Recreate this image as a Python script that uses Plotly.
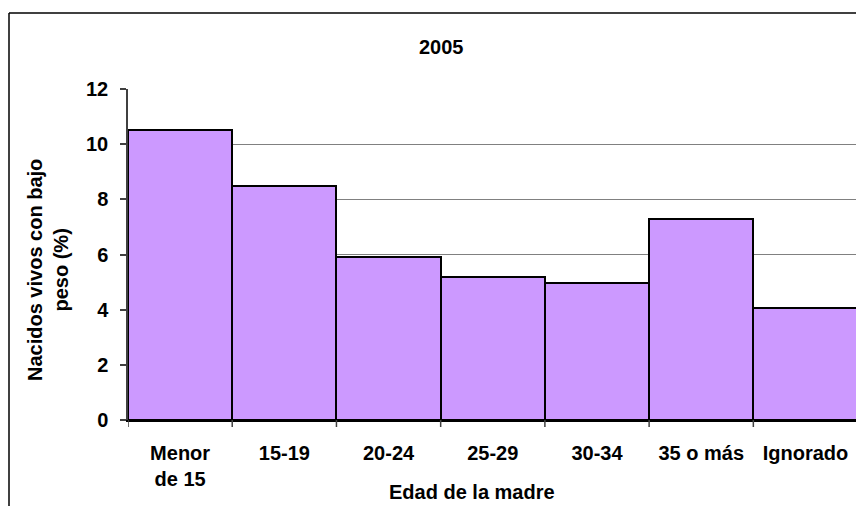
import plotly.graph_objects as go

categories = ["Menor<br>de 15", "15-19", "20-24", "25-29", "30-34", "35 o más", "Ignorado"]
values = [10.5, 8.5, 5.9, 5.2, 4.95, 7.3, 4.05]
y_ticks = [0, 2, 4, 6, 8, 10, 12]

W, H = 856, 506
L, T = 128, 89
PR, PB = 856, 420   # plot right / bottom in px
R, B = W - PR, H - PB
pw = W - L - R
ph = H - T - B

def px(x):
    return (x - L) / pw

def py(y):
    return (PB - y) / ph

FONT = "Liberation Sans, Arial, sans-serif"

fig = go.Figure(go.Bar(
    x=list(range(len(categories))),
    y=values,
    marker=dict(color="#CC99FF", line=dict(color="black", width=2)),
    width=1.0,
))

fig.update_layout(
    width=W, height=H,
    margin=dict(l=L, r=R, t=T, b=B),
    paper_bgcolor="white", plot_bgcolor="white",
    bargap=0,
    showlegend=False,
    font=dict(family=FONT, color="black"),
)

fig.update_xaxes(
    range=[-0.5, len(categories) - 0.515],
    tickmode="array",
    tickvals=list(range(len(categories))),
    ticktext=["<b>%s</b>" % c for c in categories],
    tickfont=dict(size=20, family=FONT, color="black"),
    ticklabelstandoff=14,
    showgrid=False,
    showline=True, linecolor="black", linewidth=2,
    ticks="",
    zeroline=False,
)

fig.update_yaxes(
    range=[0, 12],
    tickmode="array",
    tickvals=y_ticks,
    ticktext=["<b>%d</b>" % v for v in y_ticks],
    tickfont=dict(size=20, family=FONT, color="black"),
    ticklabelstandoff=8,
    showgrid=True, gridcolor="#808080", gridwidth=1,
    showline=True, linecolor="#404040", linewidth=1.5,
    ticks="outside", ticklen=6, tickcolor="#404040", tickwidth=1.5,
    zeroline=False,
)

shapes = []
# x-axis boundary tick marks
for i in range(len(categories)):
    shapes.append(dict(type="line", xref="x", yref="paper",
                       x0=i - 0.5, x1=i - 0.5, y0=0, y1=py(427),
                       line=dict(color="#404040", width=1.5)))
# outer chart border (cropped)
shapes.append(dict(type="line", xref="paper", yref="paper",
                   x0=px(9), x1=px(870), y0=py(13), y1=py(13),
                   line=dict(color="black", width=1.5)))
shapes.append(dict(type="line", xref="paper", yref="paper",
                   x0=px(9), x1=px(9), y0=py(13), y1=py(520),
                   line=dict(color="black", width=1.5)))
fig.update_layout(shapes=shapes)

annotations = [
    dict(text="<b>2005</b>", xref="paper", yref="paper", x=px(441), y=py(47),
         showarrow=False, font=dict(size=20, family=FONT, color="black"),
         xanchor="center", yanchor="middle"),
    dict(text="<b>Nacidos vivos con bajo<br>peso (%)</b>", xref="paper", yref="paper",
         x=px(48), y=py(270), textangle=-90, showarrow=False,
         font=dict(size=20, family=FONT, color="black"),
         xanchor="center", yanchor="middle"),
    dict(text="<b>Edad de la madre</b>", xref="paper", yref="paper",
         x=px(472), y=py(492), showarrow=False,
         font=dict(size=20, family=FONT, color="black"),
         xanchor="center", yanchor="middle"),
]
fig.update_layout(annotations=annotations)

fig.write_html(
    "out.html",
    config={"displayModeBar": False},
    post_script="document.body.style.margin='0';document.body.style.overflow='hidden';",
)
